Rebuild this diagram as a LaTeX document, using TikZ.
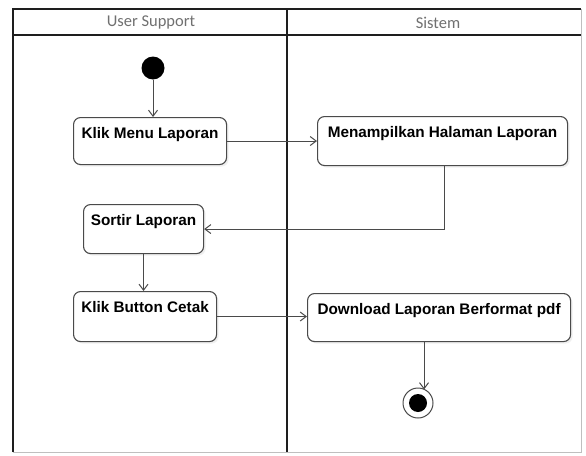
\documentclass[tikz,border=0pt]{standalone}
\usepackage{fontspec}
\setmainfont{Liberation Sans}
\newfontfamily\headfont{Carlito}
\usetikzlibrary{arrows.meta,shadows}
\definecolor{laneline}{HTML}{1E1E1E}
\definecolor{edgegrey}{HTML}{4A4A4A}
\definecolor{headtext}{HTML}{707070}
\tikzset{
  act/.style={draw=edgegrey, line width=1.1pt, rounded corners=7pt, fill=white,
    anchor=north west, inner xsep=0pt, inner ysep=0pt,
    text height=20.5pt, font=\fontsize{15.3}{17}\selectfont\bfseries,
    drop shadow={opacity=0.12, shadow xshift=2pt, shadow yshift=-2pt}},
  arr/.style={draw=edgegrey, line width=1pt, -{Straight Barb[length=6pt,width=9pt]}},
  lane/.style={draw=laneline, line width=1.6pt},
  lanelight/.style={draw=black!25, line width=1pt},
  head/.style={font=\headfont\fontsize{16.5}{18}\selectfont, text=headtext}
}
\begin{document}
\begin{tikzpicture}[x=1pt,y=-1pt]
\useasboundingbox (0,0) rectangle (586,455);
\fill[white] (0,0) rectangle (586,455);

% swimlane frame
\draw[lanelight] (581,9) -- (581,452) -- (13,452);
\draw[lane] (13,452) -- (13,9) -- (581,9);
\draw[lane] (13,35) -- (581,35);
\draw[lane] (287,9) -- (287,452);
\node[head] (laneA) at (151,22.5) {User Support};
\node[head] (laneB) at (438,22.5) {Sistem};

% initial and final states
\node[circle, fill=black, minimum size=23pt, inner sep=0pt] (start) at (153,68) {};
\node[circle, draw=edgegrey, line width=1pt, fill=white, minimum size=30pt, inner sep=0pt] (end) at (418,403) {};
\node[circle, fill=black, minimum size=18pt, inner sep=0pt] (endcore) at (end.center) {};

% activities
\node[act, minimum width=153pt, text depth=26.5pt] (km) at (73,117) {Klik Menu Laporan};
\node[act, minimum width=250pt, text depth=28.5pt] (mh) at (317,116) {Menampilkan Halaman Laporan};
\node[act, minimum width=120pt, text depth=28.5pt] (so) at (83,204) {Sortir Laporan};
\node[act, minimum width=143pt, text depth=29.5pt] (kb) at (73,291) {Klik Button Cetak};
\node[act, minimum width=263pt, text depth=27.5pt] (dl) at (307,293) {Download Laporan Berformat pdf};

% control flow
\draw[arr] (start.south) -- (start.south |- km.north);
\draw[arr] (km.east) -- (km.east -| mh.west);
\draw[arr] ([xshift=2pt]mh.south) |- (so.east);
\draw[arr] (so.south) -- (so.south |- kb.north);
\draw[arr] (kb.east) -- (kb.east -| dl.west);
\draw[arr] ([xshift=6pt]end.north |- dl.south) -- ([xshift=6pt,yshift=-2pt]end.north);
\end{tikzpicture}
\end{document}
